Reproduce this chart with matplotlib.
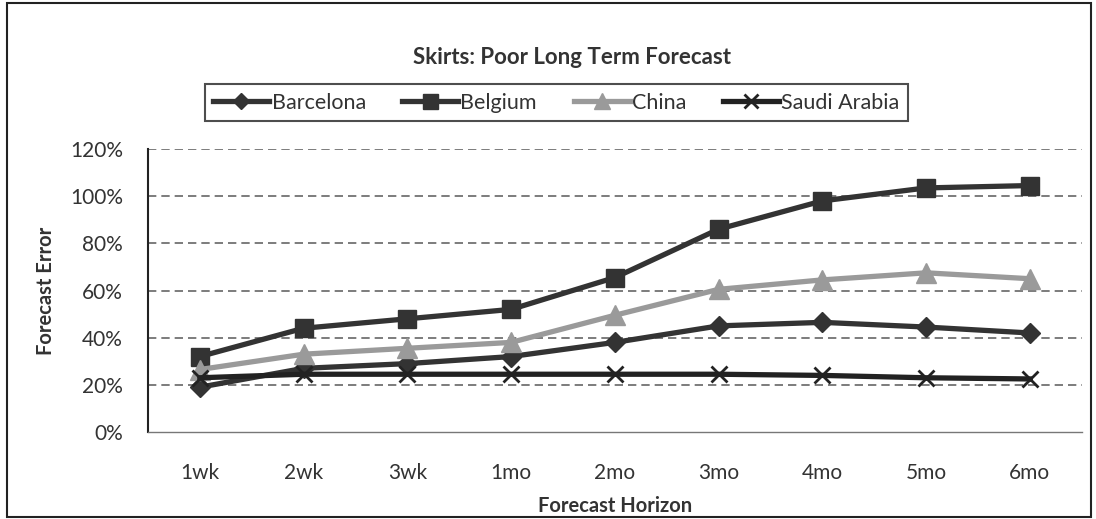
import matplotlib.pyplot as plt
from matplotlib.patches import Rectangle
from matplotlib.ticker import PercentFormatter

plt.rcParams['font.family'] = ['Lato', 'DejaVu Sans']

horizons = ['1wk', '2wk', '3wk', '1mo', '2mo', '3mo', '4mo', '5mo', '6mo']
barcelona = [0.19, 0.27, 0.29, 0.32, 0.38, 0.45, 0.465, 0.445, 0.42]
belgium = [0.32, 0.44, 0.48, 0.52, 0.655, 0.86, 0.98, 1.035, 1.045]
china = [0.265, 0.33, 0.355, 0.38, 0.495, 0.605, 0.645, 0.675, 0.65]
saudi_arabia = [0.23, 0.245, 0.245, 0.245, 0.245, 0.245, 0.24, 0.23, 0.225]

fig = plt.figure(figsize=(10.96, 5.19), dpi=100)
ax = fig.add_axes([0.135, 0.1676, 0.852, 0.5453])

x = range(len(horizons))
ax.plot(x, barcelona, color='#333333', lw=3.8, marker='D', ms=10, label='Barcelona')
ax.plot(x, belgium, color='#333333', lw=3.8, marker='s', ms=13.5, label='Belgium')
ax.plot(x, china, color='#9a9a9a', lw=3.8, marker='^', ms=14, label='China')
ax.plot(x, saudi_arabia, color='#222222', lw=3.8, marker='x', ms=12, mew=2,
        label='Saudi Arabia')

ax.set_xlim(-0.5, len(horizons) - 0.5)
ax.set_ylim(0, 1.2)
ax.set_yticks([0, 0.2, 0.4, 0.6, 0.8, 1.0, 1.2])
ax.yaxis.set_major_formatter(PercentFormatter(1.0, decimals=0))
ax.set_xticks(list(x))
ax.set_xticklabels(horizons)
ax.tick_params(length=0, labelsize=15, colors='#333333')
ax.tick_params(axis='x', pad=22)
ax.tick_params(axis='y', pad=18)

for v in [0.2, 0.4, 0.6, 0.8, 1.0, 1.2]:
    ax.axhline(v, color='#666666', lw=1.2, ls=(0, (5, 3)), zorder=0)

for s in ['top', 'right']:
    ax.spines[s].set_visible(False)
ax.spines['left'].set_color('#222222')
ax.spines['left'].set_linewidth(1.5)
ax.spines['bottom'].set_color('#777777')
ax.spines['bottom'].set_linewidth(1.0)

ax.set_xlabel('Forecast Horizon', fontsize=14.5, fontweight='bold',
              color='#333333', labelpad=10)
ax.set_ylabel('Forecast Error', fontsize=14.5, fontweight='bold',
              color='#333333', labelpad=10)

fig.text(0.522, 0.89, 'Skirts: Poor Long Term Forecast', ha='center',
         va='center', fontsize=16, fontweight='bold', color='#333333')

leg = fig.legend(loc='center', bbox_to_anchor=(0.5075, 0.802, 0, 0), ncol=4,
                 fontsize=15.5, frameon=True, fancybox=False, handlelength=2.6,
                 columnspacing=1.7, handletextpad=0.1, borderpad=0.4,
                 markerscale=0.8)
leg.get_frame().set_edgecolor('#222222')
leg.get_frame().set_linewidth(1.5)
for t in leg.get_texts():
    t.set_color('#333333')

fig.patches.append(Rectangle((0.006, 0.004), 0.989, 0.99, transform=fig.transFigure,
                             fill=False, edgecolor='#222222', lw=1.5))

fig.savefig('out.png', dpi=100)
